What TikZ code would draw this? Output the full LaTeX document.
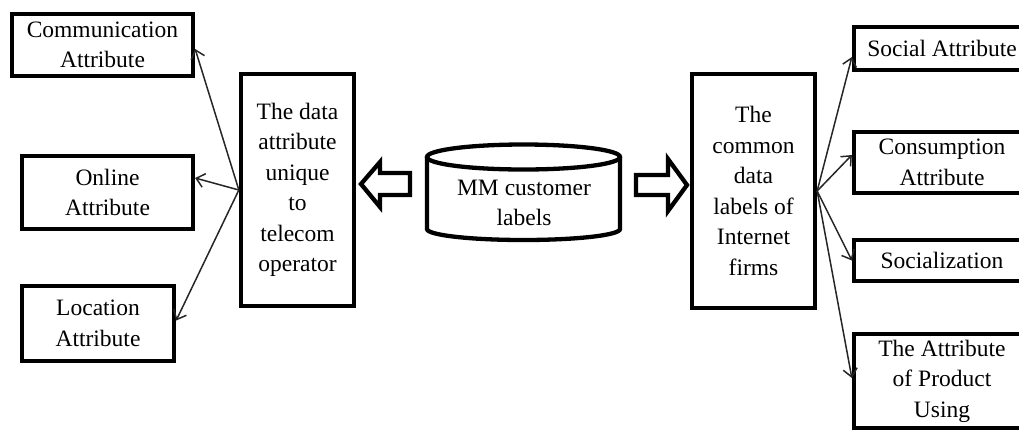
\documentclass[tikz,border=0pt]{standalone}
\usepackage{fontspec}
\setmainfont{Liberation Serif}
\usetikzlibrary{arrows.meta}
\begin{document}
\begin{tikzpicture}[x=1pt,y=-1pt,
  txt/.style={font=\fontsize{23.5}{30.5}\selectfont, align=center},
  box/.style={txt, draw, line width=4.3pt, inner sep=0pt},
  link/.style={line width=1.5pt, draw=black!85, -{Straight Barb[length=8pt,width=14pt]}},
  hollow/.style={draw, line width=4.3pt, line join=miter, fill=white}]
\clip (0,0) rectangle (1019,432);

% left-hand attribute boxes
\node[box, minimum width=181pt, minimum height=62pt] (comm) at (102.5,45) {Communication\\Attribute};
\node[box, minimum width=171pt, minimum height=73pt] (on) at (107.5,192.5) {Online\\Attribute};
\node[box, minimum width=152pt, minimum height=75pt] (loc) at (98,323.5) {Location\\Attribute};

% the two tall category boxes
\node[box, minimum width=113pt, minimum height=232pt] (lt) at (297.5,190)
  {The data\\attribute\\unique\\to\\telecom\\operator};
\node[box, minimum width=123pt, minimum height=234pt] (rt) at (753.5,191)
  {The\\common\\data\\labels of\\Internet\\firms};

% right-hand attribute boxes (running past the right edge)
\node[box, minimum width=176pt, minimum height=43pt] (soc) at (942,48.5) {Social Attribute};
\node[box, minimum width=176pt, minimum height=61pt] (cons) at (942,162.5) {Consumption\\Attribute};
\node[box, minimum width=176pt, minimum height=41pt] (socz) at (942,260.5) {Socialization};
\node[box, minimum width=176pt, minimum height=94pt] (prod) at (942,381) {The Attribute\\of Product\\Using};

% database cylinder in the middle
\draw[line width=4.3pt] (427,157) -- (427,229)
  arc[start angle=180, end angle=360, x radius=96.5pt, y radius=11pt] -- (620,157);
\draw[line width=4.3pt] (523.5,157) ellipse [x radius=96.5pt, y radius=12.5pt];
\node[txt] (db) at (524,203) {MM customer\\labels};

% hollow block arrows out of the cylinder
\draw[hollow] (361,184) -- (380,162) -- (380,173) -- (410,173) -- (410,195)
  -- (380,195) -- (380,207) -- cycle;
\draw[hollow] (636,175) -- (668,175) -- (668,159) -- (687,185) -- (668,211)
  -- (668,195) -- (636,195) -- cycle;

% fan-out connectors
\draw[link] (lt.west) -- ([yshift=-4pt]comm.east);
\draw[link] (lt.west) -- ([yshift=14.5pt]on.east);
\draw[link] (lt.west) -- ([yshift=3pt]loc.east);
\draw[link] (rt.east) -- ([yshift=-8.5pt]soc.west);
\draw[link] (rt.east) -- ([yshift=7.5pt]cons.west);
\draw[link] (rt.east) -- (socz.west);
\draw[link] (rt.east) -- ([yshift=3pt]prod.west);
\end{tikzpicture}
\end{document}
